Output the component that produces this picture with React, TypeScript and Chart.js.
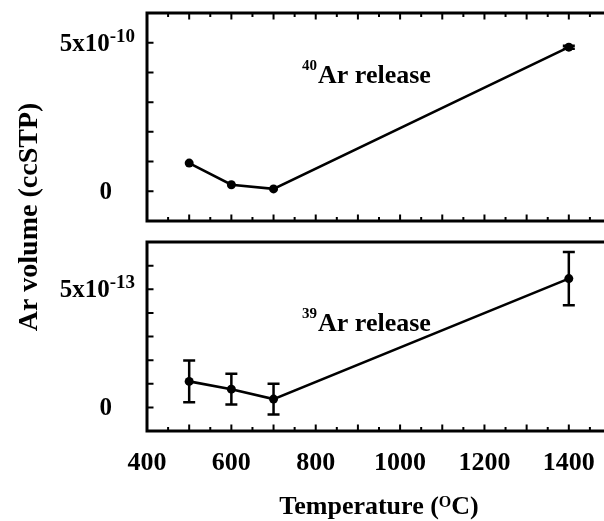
import React, { useEffect, useRef } from "react";
import { Chart, registerables } from "chart.js";

Chart.register(...registerables);

// ---------- data ----------
const temperatures = [500, 600, 700, 1400];
const ar40Values = [0.95e-10, 0.22e-10, 0.08e-10, 4.85e-10];
const ar40Errors = [0, 0, 0, 0.05e-10];
const ar39Values = [1.1e-13, 0.77e-13, 0.35e-13, 5.45e-13];
const ar39Errors = [0.88e-13, 0.65e-13, 0.65e-13, 1.13e-13];

const xTickValues = [400, 600, 800, 1000, 1200, 1400];
const xTickLabels = ["400", "600", "800", "1000", "1200", "1400"];
const topYTickValues = [0, 5e-10];
const topYTickBases = ["0", "5x10"];
const topYTickExps = ["", "-10"];
const bottomYTickValues = [0, 5e-13];
const bottomYTickBases = ["0", "5x10"];
const bottomYTickExps = ["", "-13"];

const X_MIN = 400;
const X_MAX = 1500;

// ---------- layout / style ----------
const CANVAS_W = 630;
const CANVAS_H = 521;
const FONT = '"Liberation Serif", "Times New Roman", serif';

type PanelCfg = {
  values: number[];
  errors: number[];
  yMin: number;
  yMax: number;
  yStep: number;
  tickValues: number[];
  tickBases: string[];
  tickExps: string[];
  topTicks: boolean;
  iso: string;
  annX: number;
  annY: number;
  padTop: number;
  areaBottom: number;
  showX: boolean;
  showYTitle: boolean;
};

function drawSup(
  ctx: CanvasRenderingContext2D,
  base: string,
  exp: string,
  x: number,
  y: number,
  mainPx: number,
  supPx: number,
  raise: number,
  align: "left" | "right" | "center"
) {
  ctx.textAlign = "left";
  ctx.textBaseline = "alphabetic";
  ctx.font = `bold ${mainPx}px ${FONT}`;
  const wb = ctx.measureText(base).width;
  ctx.font = `bold ${supPx}px ${FONT}`;
  const we = exp ? ctx.measureText(exp).width : 0;
  let sx = x;
  if (align === "right") sx = x - wb - we;
  if (align === "center") sx = x - (wb + we) / 2;
  ctx.font = `bold ${mainPx}px ${FONT}`;
  ctx.fillText(base, sx, y);
  if (exp) {
    ctx.font = `bold ${supPx}px ${FONT}`;
    ctx.fillText(exp, sx + wb, y - raise);
  }
}

function drawIsoLabel(ctx: CanvasRenderingContext2D, iso: string, x: number, baseline: number) {
  ctx.textAlign = "left";
  ctx.textBaseline = "alphabetic";
  ctx.font = `bold 15px ${FONT}`;
  const wi = ctx.measureText(iso).width;
  ctx.fillText(iso, x, baseline - 13);
  ctx.font = `bold 26px ${FONT}`;
  ctx.fillText("Ar release", x + wi + 1, baseline);
}

function makePlugin(cfg: PanelCfg) {
  return {
    id: "panelDecor",
    beforeDatasetsDraw(chart: any) {
      const ctx = chart.ctx as CanvasRenderingContext2D;
      const xs = chart.scales.x;
      const ys = chart.scales.y;
      ctx.save();
      ctx.strokeStyle = "#000";
      ctx.lineWidth = 2.5;
      temperatures.forEach((t, i) => {
        const e = cfg.errors[i];
        if (!e) return;
        const px = xs.getPixelForValue(t);
        const y1 = ys.getPixelForValue(cfg.values[i] + e);
        const y2 = ys.getPixelForValue(cfg.values[i] - e);
        ctx.beginPath();
        ctx.moveTo(px, y1);
        ctx.lineTo(px, y2);
        ctx.moveTo(px - 6, y1);
        ctx.lineTo(px + 6, y1);
        ctx.moveTo(px - 6, y2);
        ctx.lineTo(px + 6, y2);
        ctx.stroke();
      });
      ctx.restore();
    },
    afterDraw(chart: any) {
      const ctx = chart.ctx as CanvasRenderingContext2D;
      const { left, right, top, bottom } = chart.chartArea;
      const xs = chart.scales.x;
      const ys = chart.scales.y;
      ctx.save();
      ctx.strokeStyle = "#000";
      ctx.fillStyle = "#000";

      // x ticks (inward)
      ctx.lineWidth = 2;
      ctx.beginPath();
      for (let v = X_MIN + 50; v < X_MAX; v += 50) {
        const px = xs.getPixelForValue(v);
        const len = v % 100 === 0 ? 6.5 : 4;
        ctx.moveTo(px, bottom);
        ctx.lineTo(px, bottom - len);
        if (cfg.topTicks) {
          ctx.moveTo(px, top);
          ctx.lineTo(px, top + len);
        }
      }
      // y ticks (inward, both sides)
      for (let k = 0; k * cfg.yStep < cfg.yMax - cfg.yStep * 0.01; k++) {
        const py = ys.getPixelForValue(k * cfg.yStep);
        ctx.moveTo(left, py);
        ctx.lineTo(left + 6.5, py);
        ctx.moveTo(right, py);
        ctx.lineTo(right - 6.5, py);
      }
      ctx.stroke();

      // frame
      ctx.lineWidth = 3;
      ctx.strokeRect(left, top, right - left, bottom - top);

      // y tick labels
      cfg.tickValues.forEach((v, i) => {
        const py = ys.getPixelForValue(v);
        const rx = cfg.tickExps[i] ? left - 12 : left - 35;
        drawSup(ctx, cfg.tickBases[i], cfg.tickExps[i], rx, py + 8, 25, 19, 9, "right");
      });

      // annotation
      drawIsoLabel(ctx, cfg.iso, left + cfg.annX, top + cfg.annY);

      // x tick labels + title
      if (cfg.showX) {
        ctx.font = `bold 26px ${FONT}`;
        ctx.textAlign = "center";
        ctx.textBaseline = "alphabetic";
        xTickValues.forEach((v, i) => {
          ctx.fillText(xTickLabels[i], xs.getPixelForValue(v), bottom + 39);
        });
        // Temperature (°C) title with superscript O
        const cx = (left + right) / 2;
        const by = bottom + 83;
        ctx.textAlign = "left";
        ctx.font = `bold 26px ${FONT}`;
        const p1 = "Temperature (";
        const p3 = "C)";
        const w1 = ctx.measureText(p1).width;
        const w3 = ctx.measureText(p3).width;
        ctx.font = `bold 16px ${FONT}`;
        const w2 = ctx.measureText("O").width;
        const sx = cx - (w1 + w2 + w3) / 2;
        ctx.font = `bold 26px ${FONT}`;
        ctx.fillText(p1, sx, by);
        ctx.font = `bold 16px ${FONT}`;
        ctx.fillText("O", sx + w1, by - 7);
        ctx.font = `bold 26px ${FONT}`;
        ctx.fillText(p3, sx + w1 + w2, by);
      }

      if (cfg.showYTitle) {
        ctx.save();
        ctx.translate(37, 217);
        ctx.rotate(-Math.PI / 2);
        ctx.font = `bold 28px ${FONT}`;
        ctx.textAlign = "center";
        ctx.textBaseline = "alphabetic";
        ctx.fillText("Ar volume (ccSTP)", 0, 0);
        ctx.restore();
      }
      ctx.restore();
    },
  };
}

function buildChart(canvas: HTMLCanvasElement, cfg: PanelCfg) {
  return new Chart(canvas, {
    type: "line",
    data: {
      datasets: [
        {
          data: temperatures.map((t, i) => ({ x: t, y: cfg.values[i] })),
          borderColor: "#000",
          backgroundColor: "#000",
          borderWidth: 2.6,
          pointRadius: 4.5,
          pointBackgroundColor: "#000",
          pointBorderWidth: 0,
          tension: 0,
          fill: false,
        },
      ],
    },
    options: {
      responsive: false,
      animation: false,
      devicePixelRatio: 1,
      layout: { padding: { left: 0, right: CANVAS_W - 611, top: cfg.padTop, bottom: 0 } },
      plugins: { legend: { display: false }, tooltip: { enabled: false } },
      scales: {
        x: {
          type: "linear",
          min: X_MIN,
          max: X_MAX,
          ticks: { display: false },
          grid: { display: false },
          border: { display: false },
          afterFit: (s: any) => {
            s.height = CANVAS_H - cfg.areaBottom;
          },
        },
        y: {
          type: "linear",
          min: cfg.yMin,
          max: cfg.yMax,
          ticks: { display: false },
          grid: { display: false },
          border: { display: false },
          afterFit: (s: any) => {
            s.width = 147;
          },
        },
      },
    },
    plugins: [makePlugin(cfg)],
  } as any);
}

export default function App() {
  const topRef = useRef<HTMLCanvasElement>(null);
  const botRef = useRef<HTMLCanvasElement>(null);

  useEffect(() => {
    const top = buildChart(topRef.current!, {
      values: ar40Values,
      errors: ar40Errors,
      yMin: -1e-10,
      yMax: 6e-10,
      yStep: 1e-10,
      tickValues: topYTickValues,
      tickBases: topYTickBases,
      tickExps: topYTickExps,
      topTicks: true,
      iso: "40",
      annX: 155,
      annY: 70,
      padTop: 13,
      areaBottom: 221,
      showX: false,
      showYTitle: true,
    });
    const bot = buildChart(botRef.current!, {
      values: ar39Values,
      errors: ar39Errors,
      yMin: -1e-13,
      yMax: 7e-13,
      yStep: 1e-13,
      tickValues: bottomYTickValues,
      tickBases: bottomYTickBases,
      tickExps: bottomYTickExps,
      topTicks: false,
      iso: "39",
      annX: 155,
      annY: 89,
      padTop: 242,
      areaBottom: 431,
      showX: true,
      showYTitle: false,
    });
    return () => {
      top.destroy();
      bot.destroy();
    };
  }, []);

  const cStyle: React.CSSProperties = {
    position: "absolute",
    left: 0,
    top: 0,
    width: CANVAS_W,
    height: CANVAS_H,
  };

  return (
    <div
      style={{
        position: "absolute",
        left: 0,
        top: 0,
        width: 604,
        height: 521,
        overflow: "hidden",
        background: "#fff",
      }}
    >
      <canvas ref={topRef} width={CANVAS_W} height={CANVAS_H} style={cStyle} />
      <canvas ref={botRef} width={CANVAS_W} height={CANVAS_H} style={cStyle} />
    </div>
  );
}
